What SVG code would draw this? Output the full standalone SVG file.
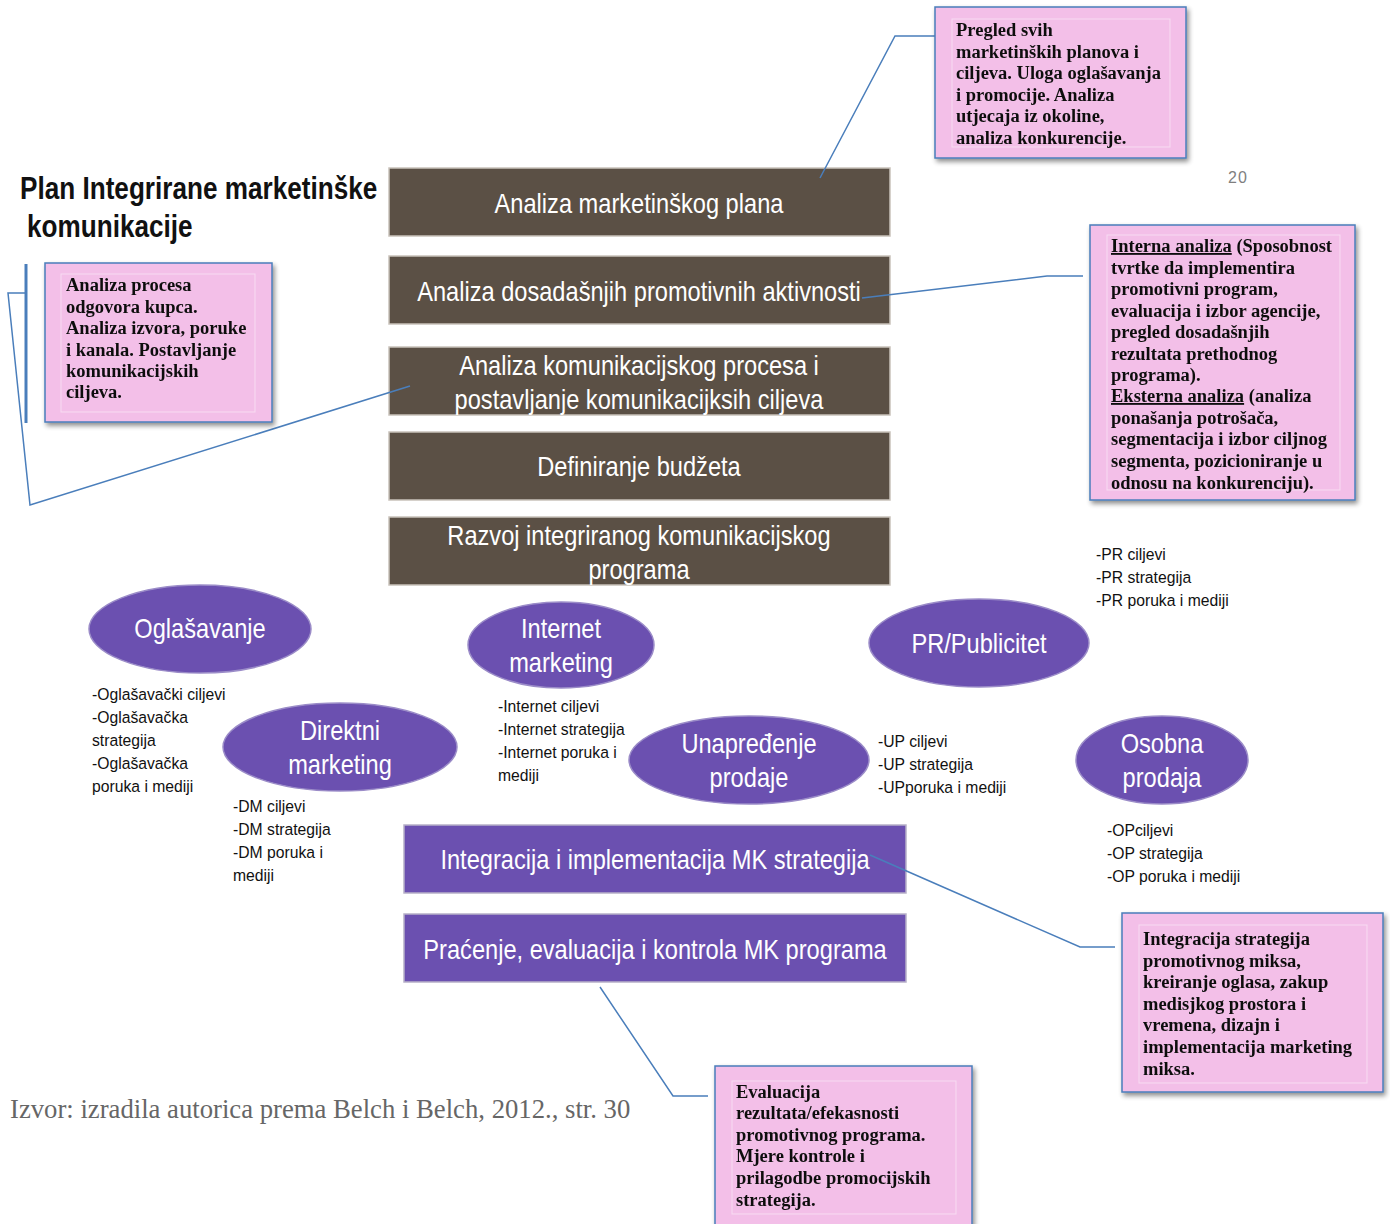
<svg xmlns="http://www.w3.org/2000/svg" width="1390" height="1224" viewBox="0 0 1390 1224">
  <style>
    .step { fill: #5b5045; stroke: #c9c2ba; stroke-width: 1.5; }
    .pstep { fill: #6b50b0; stroke: #b7b0c8; stroke-width: 1.5; }
    .oval { fill: #6b50b0; stroke: #9b8cc8; stroke-width: 1.5; }
    .lbl { font-family: "Liberation Sans", Arial, sans-serif; font-size: 27px; fill: #ffffff; text-anchor: middle; }
    .list { font-family: "Liberation Sans", Arial, sans-serif; font-size: 17px; fill: #111111; }
    .note { fill: #f3bfe8; stroke: #4a7ebb; stroke-width: 1.5; }
    .frame { fill: none; stroke: #f8dcf2; stroke-width: 1; }
    .ntxt { font-family: "Liberation Serif", "Times New Roman", serif; font-weight: bold; font-size: 18.5px; fill: #111111; }
    .wire { fill: none; stroke: #4a7ebb; stroke-width: 1.5; }
  </style>
  <defs>
    <filter id="shadow" x="-10%" y="-10%" width="125%" height="125%">
      <feGaussianBlur in="SourceAlpha" stdDeviation="2.5"/>
      <feOffset dx="2" dy="3" result="b"/>
      <feComponentTransfer><feFuncA type="linear" slope="0.45"/></feComponentTransfer>
      <feMerge><feMergeNode/><feMergeNode in="SourceGraphic"/></feMerge>
    </filter>
  </defs>
  <rect width="1390" height="1224" fill="#ffffff"/>

  <!-- title (condensed by horizontal scaling) -->
  <g id="title" font-family="Liberation Sans, Arial, sans-serif" font-weight="bold" font-size="32" fill="#111111">
    <text transform="translate(20 199) scale(0.817 1)">Plan Integrirane marketinške</text>
    <text transform="translate(27 237) scale(0.817 1)">komunikacije</text>
  </g>
  <text id="pagenum" x="1228" y="183" font-family="Liberation Sans, sans-serif" font-size="16" fill="#7f7f7f" letter-spacing="1">20</text>

  <!-- planning steps -->
  <g id="step1"><rect class="step" x="389" y="168" width="501" height="68"/>
    <text class="lbl" transform="translate(639 213) scale(0.875 1)">Analiza marketinškog plana</text></g>
  <g id="step2"><rect class="step" x="389" y="256" width="501" height="68"/>
    <text class="lbl" transform="translate(639 301) scale(0.875 1)">Analiza dosadašnjih promotivnih aktivnosti</text></g>
  <g id="step3"><rect class="step" x="389" y="347" width="501" height="68"/>
    <text class="lbl" transform="translate(639 375) scale(0.875 1)">Analiza komunikacijskog procesa i</text>
    <text class="lbl" transform="translate(639 409) scale(0.875 1)">postavljanje komunikacijksih ciljeva</text></g>
  <g id="step4"><rect class="step" x="389" y="432" width="501" height="68"/>
    <text class="lbl" transform="translate(639 476) scale(0.875 1)">Definiranje budžeta</text></g>
  <g id="step5"><rect class="step" x="389" y="517" width="501" height="68"/>
    <text class="lbl" transform="translate(639 545) scale(0.875 1)">Razvoj integriranog komunikacijskog</text>
    <text class="lbl" transform="translate(639 579) scale(0.875 1)">programa</text></g>
  <g id="step6"><rect class="pstep" x="404" y="825" width="502" height="68"/>
    <text class="lbl" transform="translate(655 869) scale(0.875 1)">Integracija i implementacija MK strategija</text></g>
  <g id="step7"><rect class="pstep" x="404" y="914" width="502" height="68"/>
    <text class="lbl" transform="translate(655 959) scale(0.875 1)">Praćenje, evaluacija i kontrola MK programa</text></g>

  <!-- promotion mix tools -->
  <g id="oglasavanje"><ellipse class="oval" cx="200" cy="629" rx="111" ry="44"/>
    <text class="lbl" transform="translate(200 638) scale(0.875 1)">Oglašavanje</text>
    <text class="list" transform="translate(92 700) scale(0.925 1)">-Oglašavački ciljevi</text>
    <text class="list" transform="translate(92 723) scale(0.925 1)">-Oglašavačka</text>
    <text class="list" transform="translate(92 746) scale(0.925 1)">strategija</text>
    <text class="list" transform="translate(92 769) scale(0.925 1)">-Oglašavačka</text>
    <text class="list" transform="translate(92 792) scale(0.925 1)">poruka i mediji</text></g>
  <g id="internet"><ellipse class="oval" cx="561" cy="645" rx="93" ry="43"/>
    <text class="lbl" transform="translate(561 638) scale(0.875 1)">Internet</text>
    <text class="lbl" transform="translate(561 672) scale(0.875 1)">marketing</text>
    <text class="list" transform="translate(498 712) scale(0.925 1)">-Internet ciljevi</text>
    <text class="list" transform="translate(498 735) scale(0.925 1)">-Internet strategija</text>
    <text class="list" transform="translate(498 758) scale(0.925 1)">-Internet poruka i</text>
    <text class="list" transform="translate(498 781) scale(0.925 1)">mediji</text></g>
  <g id="pr"><ellipse class="oval" cx="979" cy="643" rx="110" ry="44"/>
    <text class="lbl" transform="translate(979 653) scale(0.875 1)">PR/Publicitet</text>
    <text class="list" transform="translate(1096 560) scale(0.925 1)">-PR ciljevi</text>
    <text class="list" transform="translate(1096 583) scale(0.925 1)">-PR strategija</text>
    <text class="list" transform="translate(1096 606) scale(0.925 1)">-PR poruka i mediji</text></g>
  <g id="direktni"><ellipse class="oval" cx="340" cy="747" rx="117" ry="44"/>
    <text class="lbl" transform="translate(340 740) scale(0.875 1)">Direktni</text>
    <text class="lbl" transform="translate(340 774) scale(0.875 1)">marketing</text>
    <text class="list" transform="translate(233 812) scale(0.925 1)">-DM ciljevi</text>
    <text class="list" transform="translate(233 835) scale(0.925 1)">-DM strategija</text>
    <text class="list" transform="translate(233 858) scale(0.925 1)">-DM poruka i</text>
    <text class="list" transform="translate(233 881) scale(0.925 1)">mediji</text></g>
  <g id="unapredenje"><ellipse class="oval" cx="749" cy="760" rx="120" ry="44"/>
    <text class="lbl" transform="translate(749 753) scale(0.875 1)">Unapređenje</text>
    <text class="lbl" transform="translate(749 787) scale(0.875 1)">prodaje</text>
    <text class="list" transform="translate(878 747) scale(0.925 1)">-UP ciljevi</text>
    <text class="list" transform="translate(878 770) scale(0.925 1)">-UP strategija</text>
    <text class="list" transform="translate(878 793) scale(0.925 1)">-UPporuka i mediji</text></g>
  <g id="osobna"><ellipse class="oval" cx="1162" cy="760" rx="86" ry="44"/>
    <text class="lbl" transform="translate(1162 753) scale(0.875 1)">Osobna</text>
    <text class="lbl" transform="translate(1162 787) scale(0.875 1)">prodaja</text>
    <text class="list" transform="translate(1107 836) scale(0.925 1)">-OPciljevi</text>
    <text class="list" transform="translate(1107 859) scale(0.925 1)">-OP strategija</text>
    <text class="list" transform="translate(1107 882) scale(0.925 1)">-OP poruka i mediji</text></g>

  <!-- callout leader lines, drawn over the step boxes they point into -->
  <g id="connectors">
    <polyline class="wire" points="820,178 895,36 935,36"/>
    <polyline class="wire" points="410,386 30,505 8,293 25,293"/>
    <line x1="26" y1="264" x2="26" y2="423" stroke="#4a7ebb" stroke-width="3"/>
    <polyline class="wire" points="862,298 1047,276 1083,276"/>
    <polyline class="wire" points="870,855 1080,947 1115,947"/>
    <polyline class="wire" points="600,987 673,1096 708,1096"/>
  </g>

  <!-- explanatory notes -->
  <g id="note-plan" filter="url(#shadow)"><rect class="note" x="935" y="7" width="251" height="151"/>
    <rect class="frame" x="952" y="19" width="218" height="128"/>
    <text class="ntxt" x="956" y="36">Pregled svih</text>
    <text class="ntxt" x="956" y="58">marketinških planova i</text>
    <text class="ntxt" x="956" y="79">ciljeva. Uloga oglašavanja</text>
    <text class="ntxt" x="956" y="101">i promocije. Analiza</text>
    <text class="ntxt" x="956" y="122">utjecaja iz okoline,</text>
    <text class="ntxt" x="956" y="144">analiza konkurencije.</text></g>
  <g id="note-process" filter="url(#shadow)"><rect class="note" x="45" y="263" width="227" height="159"/>
    <rect class="frame" x="61" y="274" width="194" height="138"/>
    <text class="ntxt" x="66" y="291">Analiza procesa</text>
    <text class="ntxt" x="66" y="313">odgovora kupca.</text>
    <text class="ntxt" x="66" y="334">Analiza izvora, poruke</text>
    <text class="ntxt" x="66" y="356">i kanala. Postavljanje</text>
    <text class="ntxt" x="66" y="377">komunikacijskih</text>
    <text class="ntxt" x="66" y="398">ciljeva.</text></g>
  <g id="note-analysis" filter="url(#shadow)"><rect class="note" x="1090" y="225" width="265" height="275"/>
    <rect class="frame" x="1107" y="235" width="233" height="255"/>
    <text class="ntxt" x="1111" y="252"><tspan text-decoration="underline">Interna analiza</tspan> (Sposobnost</text>
    <text class="ntxt" x="1111" y="274">tvrtke da implementira</text>
    <text class="ntxt" x="1111" y="295">promotivni program,</text>
    <text class="ntxt" x="1111" y="317">evaluacija i izbor agencije,</text>
    <text class="ntxt" x="1111" y="338">pregled dosadašnjih</text>
    <text class="ntxt" x="1111" y="360">rezultata prethodnog</text>
    <text class="ntxt" x="1111" y="381">programa).</text>
    <text class="ntxt" x="1111" y="402"><tspan text-decoration="underline">Eksterna analiza</tspan> (analiza</text>
    <text class="ntxt" x="1111" y="424">ponašanja potrošača,</text>
    <text class="ntxt" x="1111" y="445">segmentacija i izbor ciljnog</text>
    <text class="ntxt" x="1111" y="467">segmenta, pozicioniranje u</text>
    <text class="ntxt" x="1111" y="489">odnosu na konkurenciju).</text></g>
  <g id="note-integration" filter="url(#shadow)"><rect class="note" x="1122" y="913" width="261" height="179"/>
    <rect class="frame" x="1139" y="925" width="228" height="158"/>
    <text class="ntxt" x="1143" y="945">Integracija strategija</text>
    <text class="ntxt" x="1143" y="967">promotivnog miksa,</text>
    <text class="ntxt" x="1143" y="988">kreiranje oglasa, zakup</text>
    <text class="ntxt" x="1143" y="1010">medisjkog prostora i</text>
    <text class="ntxt" x="1143" y="1031">vremena, dizajn i</text>
    <text class="ntxt" x="1143" y="1053">implementacija marketing</text>
    <text class="ntxt" x="1143" y="1075">miksa.</text></g>
  <g id="note-evaluation" filter="url(#shadow)"><rect class="note" x="715" y="1066" width="257" height="170"/>
    <rect class="frame" x="732" y="1081" width="224" height="133"/>
    <text class="ntxt" x="736" y="1098">Evaluacija</text>
    <text class="ntxt" x="736" y="1119">rezultata/efekasnosti</text>
    <text class="ntxt" x="736" y="1141">promotivnog programa.</text>
    <text class="ntxt" x="736" y="1162">Mjere kontrole i</text>
    <text class="ntxt" x="736" y="1184">prilagodbe promocijskih</text>
    <text class="ntxt" x="736" y="1206">strategija.</text></g>

  <text id="source" x="10" y="1118" font-family="Liberation Serif, Times New Roman, serif" font-size="26.7" fill="#666666">Izvor: izradila autorica prema Belch i Belch, 2012., str. 30</text>
</svg>
